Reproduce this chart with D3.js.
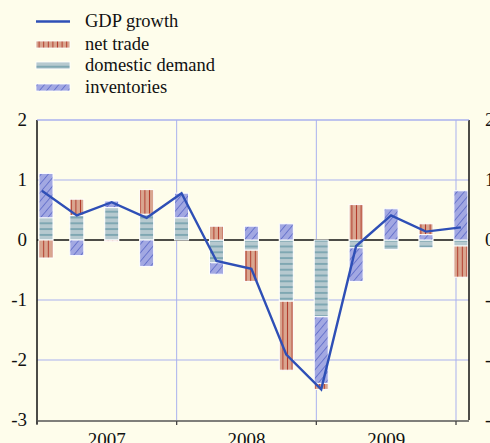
<!DOCTYPE html>
<html><head><meta charset="utf-8">
<script src="https://cdn.jsdelivr.net/npm/d3@7"></script>
<style>
html,body{margin:0;padding:0;background:#FEFDEB;}
svg{display:block;}
</style></head><body>
<svg id="c" width="490" height="443"></svg>
<script>
const quarters = ["2007Q1","2007Q2","2007Q3","2007Q4","2008Q1","2008Q2","2008Q3","2008Q4","2009Q1","2009Q2","2009Q3","2009Q4","2010Q1"];
const gdpGrowth = [0.82, 0.41, 0.63, 0.37, 0.78, -0.35, -0.48, -1.91, -2.49, -0.10, 0.41, 0.14, 0.21];
const domesticDemand = [0.37, 0.41, 0.54, 0.43, 0.37, -0.38, -0.17, -1.02, -1.28, -0.13, -0.16, -0.13, -0.10];
const inventories = [0.74, -0.26, 0.11, -0.44, 0.41, -0.19, 0.23, 0.27, -1.11, -0.56, 0.52, 0.09, 0.82];
const netTrade = [-0.30, 0.27, -0.02, 0.41, 0.00, 0.23, -0.52, -1.15, -0.10, 0.59, 0.00, 0.18, -0.52];
const yTicks = [2, 1, 0, -1, -2, -3];
const years = [2007, 2008, 2009];
const legendLabels = ["GDP growth", "net trade", "domestic demand", "inventories"];

const FONT = "'Liberation Serif', 'DejaVu Serif', 'Times New Roman', serif";
const svg = d3.select("#c").attr("font-family", FONT);
const L = 37, R = 469, T = 120, B = 420;
const xYear = d3.scaleLinear().domain([2007, 2010]).range([L, 456]);
const y = d3.scaleLinear().domain([-3, 2]).range([B, T]);
const qPos = q => { const yr = +q.slice(0,4), qq = +q.slice(5); return yr + (qq-1)/4 + 0.035; };
const bw = 14;

// patterns
const defs = svg.append("defs");
const pNT = defs.append("pattern").attr("id","pNT").attr("patternUnits","userSpaceOnUse").attr("width",4.6).attr("height",10);
pNT.append("rect").attr("width",4.6).attr("height",10).attr("fill","#D9A690");
pNT.append("line").attr("x1",2.3).attr("x2",2.3).attr("y1",0).attr("y2",10).attr("stroke","#B23C2C").attr("stroke-width",1);
const pDD = defs.append("pattern").attr("id","pDD").attr("patternUnits","userSpaceOnUse").attr("width",10).attr("height",5.8);
pDD.append("rect").attr("width",10).attr("height",5.8).attr("fill","#B6C9CF");
pDD.append("line").attr("x1",0).attr("x2",10).attr("y1",2.9).attr("y2",2.9).attr("stroke","#6496A4").attr("stroke-width",1.3);
const pINV = defs.append("pattern").attr("id","pINV").attr("patternUnits","userSpaceOnUse").attr("width",5.5).attr("height",10).attr("patternTransform","rotate(40)");
pINV.append("rect").attr("width",5.5).attr("height",10).attr("fill","#A2A8E2");
pINV.append("line").attr("x1",0.5).attr("x2",0.5).attr("y1",0).attr("y2",10).attr("stroke","#5767C6").attr("stroke-width",0.8);

// grid
const grid = svg.append("g");
grid.selectAll("line.h").data(yTicks.filter(v => v !== 0 && v !== -3)).join("line")
  .attr("x1", L).attr("x2", R).attr("y1", d => y(d)).attr("y2", d => y(d))
  .attr("stroke", "#A9B1EE").attr("stroke-width", 1);
grid.selectAll("line.v").data([2008, 2009, 2010]).join("line")
  .attr("x1", d => xYear(d)).attr("x2", d => xYear(d)).attr("y1", T).attr("y2", B)
  .attr("stroke", "#A9B1EE").attr("stroke-width", 1);

// zero line
svg.append("line").attr("x1", L).attr("x2", R).attr("y1", y(0)).attr("y2", y(0))
  .attr("stroke", "#111").attr("stroke-width", 1.3);

// stacked bars
const table = quarters.map((q, i) => ({q, dd: domesticDemand[i], inv: inventories[i], nt: netTrade[i]}));
const keys = ["dd", "inv", "nt"];
const fills = {dd: "url(#pDD)", inv: "url(#pINV)", nt: "url(#pNT)"};
const stack = d3.stack().keys(keys).offset(d3.stackOffsetDiverging)(table);
svg.append("g").selectAll("g").data(stack).join("g")
  .attr("fill", s => fills[s.key])
  .selectAll("rect").data(s => s.filter(d => Math.abs(d[1]-d[0]) > 0.001)).join("rect")
  .attr("x", d => Math.max(xYear(qPos(d.data.q)) - bw/2, L + 2))
  .attr("width", bw)
  .attr("y", d => y(Math.max(d[0], d[1])))
  .attr("height", d => Math.abs(y(d[0]) - y(d[1])))
  .attr("stroke", "#FFFFFF").attr("stroke-width", 1);

// GDP line
const line = d3.line()
  .x((d, i) => Math.max(xYear(qPos(quarters[i])), L + 1))
  .y(d => y(d));
svg.append("path").datum(gdpGrowth).attr("d", line)
  .attr("fill", "none").attr("stroke", "#2E4FB6").attr("stroke-width", 2.4).attr("stroke-linejoin", "miter");

// axes frame
svg.append("line").attr("x1", L).attr("x2", L).attr("y1", T).attr("y2", B+4).attr("stroke", "#111").attr("stroke-width", 1.5);
svg.append("line").attr("x1", R).attr("x2", R).attr("y1", T).attr("y2", B).attr("stroke", "#111").attr("stroke-width", 1.5);
svg.append("line").attr("x1", L).attr("x2", R).attr("y1", T).attr("y2", T).attr("stroke", "#A9B1EE").attr("stroke-width", 1);
svg.append("line").attr("x1", L).attr("x2", R).attr("y1", B+1).attr("y2", B+1).attr("stroke", "#555").attr("stroke-width", 1.6);
svg.append("g").selectAll("line").data([2007, 2008, 2009, 2010]).join("line")
  .attr("x1", d => xYear(d)).attr("x2", d => xYear(d)).attr("y1", B+1).attr("y2", B+5)
  .attr("stroke", "#444").attr("stroke-width", 1.3);

// y labels
svg.append("g").selectAll("text").data(yTicks).join("text")
  .attr("x", 27).attr("y", d => y(d)).attr("dy", "0.34em").attr("text-anchor", "end")
  .attr("font-family", FONT).attr("font-size", 19).attr("fill", "#111").text(d => d);
svg.append("g").selectAll("text").data(yTicks).join("text")
  .attr("x", 485).attr("y", d => y(d)).attr("dy", "0.34em").attr("text-anchor", "start")
  .attr("font-family", FONT).attr("font-size", 19).attr("fill", "#111").text(d => d);

// x labels
svg.append("g").selectAll("text").data(years).join("text")
  .attr("x", d => xYear(d + 0.5)).attr("y", 446).attr("text-anchor", "middle")
  .attr("font-family", FONT).attr("font-size", 19).attr("fill", "#111").text(d => d);

// legend
const lg = svg.append("g");
const rowY = [21.5, 44.5, 65.5, 87.5];
lg.append("line").attr("x1", 36).attr("x2", 70).attr("y1", rowY[0]).attr("y2", rowY[0]).attr("stroke", "#2E4FB6").attr("stroke-width", 2.4);
[["nt",1],["dd",2],["inv",3]].forEach(([k, r]) => {
  lg.append("rect").attr("x", 36).attr("y", rowY[r]-3.5).attr("width", 34).attr("height", 7)
    .attr("fill", fills[k]).attr("stroke", "#fff").attr("stroke-width", 0.8);
});
lg.selectAll("text").data(legendLabels).join("text")
  .attr("x", 85).attr("y", (d, i) => rowY[i]).attr("dy", "0.32em")
  .attr("font-family", FONT).attr("font-size", 18.5).attr("fill", "#111").text(d => d);
</script>
</body></html>
